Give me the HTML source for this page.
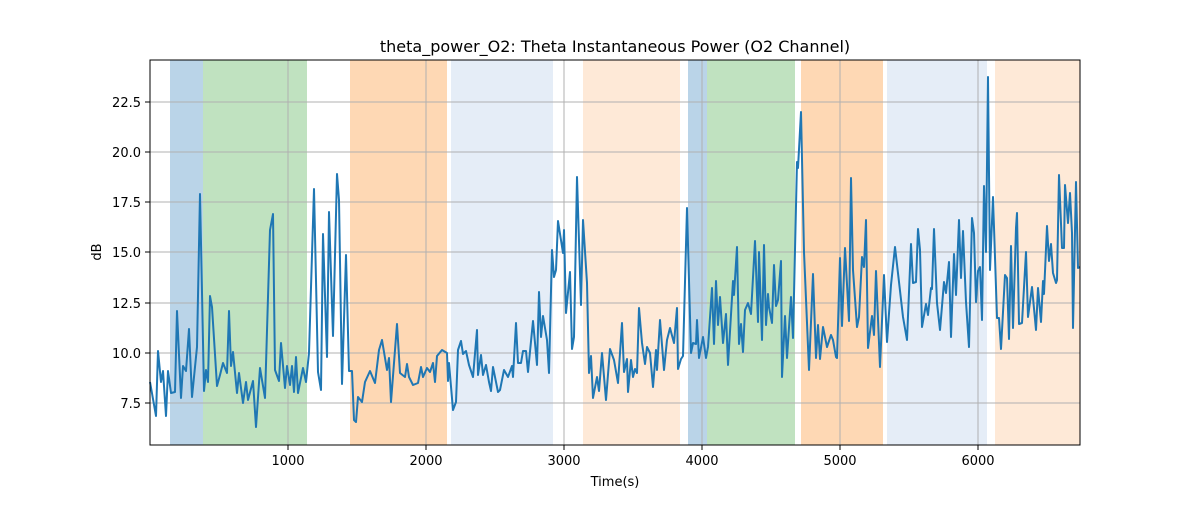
<!DOCTYPE html>
<html><head><meta charset="utf-8"><style>
body{margin:0;background:#fff}
svg text{font-family:"DejaVu Sans","Liberation Sans",sans-serif;fill:#000}
</style></head><body>
<svg width="1200" height="500" viewBox="0 0 1200 500" xmlns="http://www.w3.org/2000/svg">
<rect width="1200" height="500" fill="#fff"/>
<g>
<rect x="170" y="60" width="33" height="385" fill="#bad4e8"/>
<rect x="203" y="60" width="104" height="385" fill="#c0e2c0"/>
<rect x="350" y="60" width="97" height="385" fill="#fed8b4"/>
<rect x="451" y="60" width="102" height="385" fill="#e5edf7"/>
<rect x="583" y="60" width="97" height="385" fill="#fee9d7"/>
<rect x="688" y="60" width="19" height="385" fill="#bad4e8"/>
<rect x="707" y="60" width="88" height="385" fill="#c0e2c0"/>
<rect x="801" y="60" width="82" height="385" fill="#fed8b4"/>
<rect x="887" y="60" width="100" height="385" fill="#e5edf7"/>
<rect x="995" y="60" width="85" height="385" fill="#fee9d7"/>
</g>
<g stroke="#b0b0b0" stroke-width="1">
<line x1="288" y1="60" x2="288" y2="445"/><line x1="426" y1="60" x2="426" y2="445"/>
<line x1="564" y1="60" x2="564" y2="445"/><line x1="702" y1="60" x2="702" y2="445"/>
<line x1="840" y1="60" x2="840" y2="445"/><line x1="978" y1="60" x2="978" y2="445"/>
<line x1="150" y1="403" x2="1080" y2="403"/><line x1="150" y1="353" x2="1080" y2="353"/>
<line x1="150" y1="303" x2="1080" y2="303"/><line x1="150" y1="252" x2="1080" y2="252"/>
<line x1="150" y1="202" x2="1080" y2="202"/><line x1="150" y1="152" x2="1080" y2="152"/>
<line x1="150" y1="102" x2="1080" y2="102"/>
</g>
<polyline fill="none" stroke="#1f77b4" stroke-width="2" stroke-linejoin="round" points="150,382 156,416 158,351 161,382 163,371 166,416 168,371 171,393 175,392 177,311 181,398 183,366 186,371 189,329 192,397 197,347 200,194 204,391 206,370 208,382 210,296 212,307 217,386 220,375 223,363 227,373 229,311 231,366 233,352 237,393 239,373 243,403 246,382 248,400 253,381 256,427 260,368 265,398 270,230 273,214 275,370 279,381 281,343 285,388 287,366 290,385 292,366 294,392 296,357 298,393 303,368 306,382 309,353 314,189 318,372 321,390 323,234 327,357 329,212 333,336 337,174 339,200 342,384 346,255 349,371 352,371 354,420 356,422 358,397 362,402 365,382 370,371 375,383 379,350 382,340 387,370 389,358 391,402 397,324 400,373 405,377 407,364 409,377 413,385 418,383 421,367 423,377 427,368 430,372 433,363 435,382 437,356 442,350 447,353 448,381 449,363 453,410 456,402 458,350 461,341 463,354 466,351 469,365 473,377 477,330 478,375 481,355 483,375 486,365 489,382 491,391 493,367 498,392 500,390 504,370 508,377 512,366 513,377 516,323 518,363 521,363 523,351 526,351 528,372 533,321 537,365 539,292 541,337 543,316 547,340 549,373 552,250 554,277 556,270 558,221 563,253 564,230 566,313 570,272 572,349 574,337 577,177 581,305 583,220 587,283 589,373 591,356 593,398 597,377 599,391 602,353 606,400 610,349 614,360 618,383 622,323 624,372 627,359 628,392 631,360 633,377 635,369 637,373 639,308 642,343 645,364 647,347 650,353 653,387 656,350 657,370 660,320 664,370 667,340 670,328 674,343 677,308 678,369 681,359 683,356 687,208 691,353 693,343 696,344 697,320 699,358 703,337 706,358 708,347 712,288 714,344 716,281 718,325 720,297 723,343 726,314 728,365 733,281 734,295 737,247 739,344 741,324 743,352 745,310 748,303 751,314 755,241 758,322 759,252 762,340 764,245 766,325 768,294 769,307 772,323 774,265 776,306 778,300 781,261 782,377 785,316 787,358 791,297 793,338 797,162 798,168 801,112 804,252 809,370 813,274 816,358 818,325 820,359 823,327 827,347 831,335 833,340 836,357 837,358 840,258 842,326 845,248 849,321 851,178 853,270 857,327 859,317 862,257 864,267 866,220 868,348 872,316 874,335 876,271 880,367 884,275 887,342 891,285 895,247 903,317 907,340 911,244 913,283 916,282 918,229 920,250 922,327 926,304 928,315 931,288 932,289 934,229 937,303 940,330 944,282 946,293 949,262 951,337 954,254 956,295 959,220 961,278 963,231 966,302 969,347 972,218 974,233 976,302 978,271 980,267 982,320 984,186 986,252 988,77 990,270 993,197 997,318 999,318 1001,349 1005,275 1007,278 1009,339 1011,246 1013,328 1016,228 1017,213 1019,324 1022,323 1026,252 1028,317 1032,287 1036,330 1038,288 1041,322 1043,281 1044,294 1047,226 1049,261 1051,244 1053,273 1056,283 1057,280 1059,175 1062,248 1064,248 1065,185 1068,223 1070,193 1072,233 1073,328 1076,182 1078,268 1080,267"/>
<rect x="150" y="60" width="930" height="385" fill="none" stroke="#000" stroke-width="1"/>
<g stroke="#000" stroke-width="1">
<line x1="288" y1="445" x2="288" y2="450"/><line x1="426" y1="445" x2="426" y2="450"/>
<line x1="564" y1="445" x2="564" y2="450"/><line x1="702" y1="445" x2="702" y2="450"/>
<line x1="840" y1="445" x2="840" y2="450"/><line x1="978" y1="445" x2="978" y2="450"/>
<line x1="145" y1="403" x2="150" y2="403"/><line x1="145" y1="353" x2="150" y2="353"/>
<line x1="145" y1="303" x2="150" y2="303"/><line x1="145" y1="252" x2="150" y2="252"/>
<line x1="145" y1="202" x2="150" y2="202"/><line x1="145" y1="152" x2="150" y2="152"/>
<line x1="145" y1="102" x2="150" y2="102"/>
</g>
<g font-size="13" text-anchor="middle">
<text x="288" y="465">1000</text><text x="426" y="465">2000</text><text x="564" y="465">3000</text>
<text x="702" y="465">4000</text><text x="840" y="465">5000</text><text x="978" y="465">6000</text>
</g>
<g font-size="13" text-anchor="end">
<text x="141" y="408">7.5</text><text x="141" y="358">10.0</text><text x="141" y="308">12.5</text>
<text x="141" y="257">15.0</text><text x="141" y="207">17.5</text><text x="141" y="157">20.0</text>
<text x="141" y="107">22.5</text>
</g>
<text x="615" y="486" font-size="13" text-anchor="middle">Time(s)</text>
<text x="101" y="252" font-size="13" text-anchor="middle" transform="rotate(-90 101 252)">dB</text>
<text x="615" y="52" font-size="16" text-anchor="middle">theta_power_O2: Theta Instantaneous Power (O2 Channel)</text>
</svg>
</body></html>
